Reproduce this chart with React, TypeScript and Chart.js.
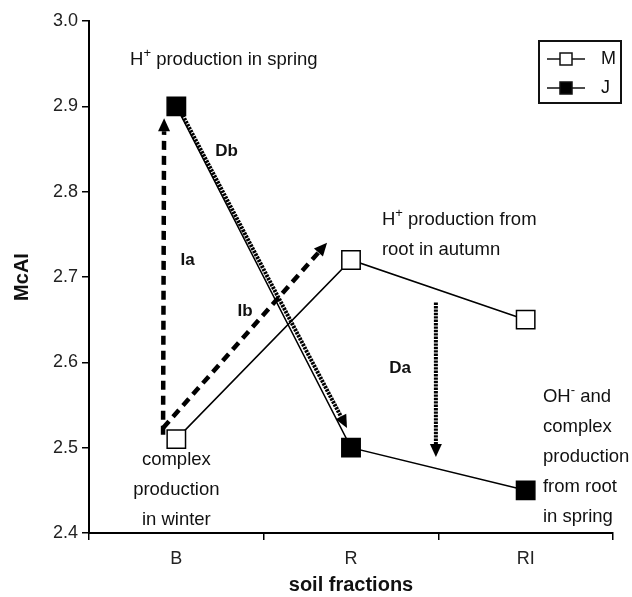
import React, { useEffect, useRef } from 'react';
import { Chart, registerables } from 'chart.js';
Chart.register(...registerables);

const categories = ['B', 'R', 'RI'];
const seriesM = [2.51, 2.72, 2.65];
const seriesJ = [2.9, 2.5, 2.45];
const seriesNames = ['M', 'J'];
const yMin = 2.4;
const yMax = 3.0;
const yStep = 0.1;
const yTitle = 'McAI';
const xTitle = 'soil fractions';

// arrows, in data space: [category index, value]
const arrowIa = { from: [-0.076, 2.515], to: [-0.07, 2.886], style: 'dash' };
const arrowIb = { from: [-0.076, 2.523], to: [0.863, 2.74], style: 'dash' };
const arrowDb = { from: [0.027, 2.893], to: [0.977, 2.523], style: 'dot' };
const arrowDa = { from: [1.486, 2.67], to: [1.486, 2.489], style: 'dot' };
const arrows = [arrowIa, arrowIb, arrowDb, arrowDa];

// annotation text ("^" marks the next char as superscript), anchored in data space
const noteSpring = { at: [-0.265, 2.954], align: 'left', lines: ['H^+ production in spring'] };
const noteAutumn = { at: [1.177, 2.7665], align: 'left', lines: ['H^+ production from', 'root in autumn'] };
const noteWinter = { at: [0, 2.4855], align: 'center', lines: ['complex', 'production', 'in winter'] };
const noteRoot = { at: [2.099, 2.559], align: 'left', lines: ['OH^- and', 'complex', 'production', 'from root', 'in spring'] };
const notes = [noteSpring, noteAutumn, noteWinter, noteRoot];

const boldLabels = [
  { text: 'Db', at: [0.287, 2.847] },
  { text: 'Ia', at: [0.064, 2.7197] },
  { text: 'Ib', at: [0.393, 2.66] },
  { text: 'Da', at: [1.281, 2.5926] },
];

const FONT = '"Liberation Sans", Arial, Helvetica, sans-serif';

function drawArrow(ctx: CanvasRenderingContext2D, x1: number, y1: number, x2: number, y2: number, style: string) {
  const dx = x2 - x1, dy = y2 - y1;
  const len = Math.hypot(dx, dy);
  const ux = dx / len, uy = dy / len;
  const headLen = 13, headW = 6;
  const ex = x2 - ux * headLen, ey = y2 - uy * headLen;
  ctx.save();
  ctx.strokeStyle = '#000';
  ctx.fillStyle = '#000';
  ctx.lineCap = 'butt';
  if (style === 'dash') {
    ctx.lineWidth = 4.5;
    ctx.setLineDash([9, 6]);
  } else {
    ctx.lineWidth = 4;
    ctx.setLineDash([2.4, 1]);
  }
  ctx.beginPath();
  ctx.moveTo(x1, y1);
  ctx.lineTo(ex, ey);
  ctx.stroke();
  ctx.setLineDash([]);
  ctx.beginPath();
  ctx.moveTo(x2, y2);
  ctx.lineTo(ex - uy * headW, ey + ux * headW);
  ctx.lineTo(ex + uy * headW, ey - ux * headW);
  ctx.closePath();
  ctx.fill();
  ctx.restore();
}

function parseRich(s: string) {
  const parts: { t: string; sup: boolean }[] = [];
  let buf = '';
  for (let i = 0; i < s.length; i++) {
    if (s[i] === '^' && i + 1 < s.length) {
      if (buf) parts.push({ t: buf, sup: false });
      buf = '';
      parts.push({ t: s[i + 1], sup: true });
      i++;
    } else buf += s[i];
  }
  if (buf) parts.push({ t: buf, sup: false });
  return parts;
}

function drawRich(ctx: CanvasRenderingContext2D, s: string, x: number, y: number, align: string, size: number) {
  const parts = parseRich(s);
  const supSize = Math.round(size * 0.7);
  let total = 0;
  const widths = parts.map((p) => {
    ctx.font = `${p.sup ? supSize : size}px ${FONT}`;
    const w = ctx.measureText(p.t).width;
    total += w;
    return w;
  });
  let cx = align === 'center' ? x - total / 2 : x;
  ctx.textAlign = 'left';
  ctx.textBaseline = 'middle';
  parts.forEach((p, i) => {
    ctx.font = `${p.sup ? supSize : size}px ${FONT}`;
    ctx.fillText(p.t, cx, p.sup ? y - size * 0.38 : y);
    cx += widths[i];
  });
}

const overlayPlugin = {
  id: 'overlay',
  beforeDatasetsDraw(chart: any) {
    const { ctx, scales } = chart;
    const xs = scales.x, ys = scales.y;
    arrows.forEach((a) => {
      drawArrow(
        ctx,
        xs.getPixelForValue(a.from[0]),
        ys.getPixelForValue(a.from[1]),
        xs.getPixelForValue(a.to[0]),
        ys.getPixelForValue(a.to[1]),
        a.style
      );
    });
  },
  afterDraw(chart: any) {
    const { ctx, scales, chartArea } = chart;
    const xs = scales.x, ys = scales.y;
    ctx.save();
    ctx.fillStyle = '#111';
    notes.forEach((n) => {
      const px = xs.getPixelForValue(n.at[0]);
      const py0 = ys.getPixelForValue(n.at[1]);
      n.lines.forEach((line, i) => {
        drawRich(ctx, line, px, py0 + i * 30, n.align, 18.5);
      });
    });
    ctx.font = `bold 17px ${FONT}`;
    ctx.textAlign = 'center';
    ctx.textBaseline = 'middle';
    boldLabels.forEach((b) => {
      ctx.fillText(b.text, xs.getPixelForValue(b.at[0]), ys.getPixelForValue(b.at[1]));
    });

    // legend box
    const bx = chartArea.right - 74, by = chartArea.top + 20, bw = 82, bh = 62;
    ctx.lineWidth = 2;
    ctx.strokeStyle = '#111';
    ctx.strokeRect(bx, by, bw, bh);
    chart.data.datasets.forEach((ds: any, i: number) => {
      const ry = by + 18 + i * 29;
      ctx.lineWidth = 1.5;
      ctx.beginPath();
      ctx.moveTo(bx + 8, ry);
      ctx.lineTo(bx + 46, ry);
      ctx.stroke();
      const s = 12;
      ctx.fillStyle = ds.pointBackgroundColor;
      ctx.fillRect(bx + 27 - s / 2, ry - s / 2, s, s);
      ctx.strokeRect(bx + 27 - s / 2, ry - s / 2, s, s);
      ctx.fillStyle = '#111';
      ctx.font = `18px ${FONT}`;
      ctx.textAlign = 'left';
      ctx.textBaseline = 'middle';
      ctx.fillText(ds.label, bx + 62, ry);
    });
    ctx.restore();
  },
};

export default function App() {
  const ref = useRef<HTMLCanvasElement>(null);
  useEffect(() => {
    if (!ref.current) return;
    const chart = new Chart(ref.current, {
      type: 'line',
      data: {
        labels: categories,
        datasets: [
          {
            label: seriesNames[0],
            data: seriesM,
            borderColor: '#000',
            borderWidth: 1.5,
            pointStyle: 'rect',
            pointRadius: 13,
            pointHoverRadius: 13,
            pointBackgroundColor: '#fff',
            pointBorderColor: '#000',
            pointBorderWidth: 1.5,
          },
          {
            label: seriesNames[1],
            data: seriesJ,
            borderColor: '#000',
            borderWidth: 1.5,
            pointStyle: 'rect',
            pointRadius: 13,
            pointHoverRadius: 13,
            pointBackgroundColor: '#000',
            pointBorderColor: '#000',
            pointBorderWidth: 1.5,
          },
        ],
      },
      options: {
        responsive: false,
        animation: false,
        events: [],
        layout: { padding: { left: 0, right: 19, top: 21, bottom: 0 } },
        plugins: { legend: { display: false }, tooltip: { enabled: false } },
        scales: {
          x: {
            type: 'category',
            offset: true,
            grid: { offset: true, drawOnChartArea: false, drawTicks: true, tickLength: 7, color: '#000', lineWidth: 1.5 },
            border: { display: true, color: '#000', width: 2 },
            ticks: { color: '#222', font: { family: FONT, size: 18 }, padding: 8 },
            title: { display: true, text: xTitle, color: '#111', font: { family: FONT, size: 20, weight: 'bold' }, padding: { top: 0, bottom: 0 } },
            afterFit: (s: any) => { s.height = 64; },
          },
          y: {
            min: yMin,
            max: yMax,
            grid: { drawOnChartArea: false, drawTicks: true, tickLength: 7, color: '#000', lineWidth: 1.5 },
            border: { display: true, color: '#000', width: 2 },
            ticks: { stepSize: yStep, color: '#222', font: { family: FONT, size: 18 }, padding: 4, callback: (v: any) => Number(v).toFixed(1) },
            title: { display: true, text: yTitle, color: '#111', font: { family: FONT, size: 20, weight: 'bold' }, padding: { top: 10, bottom: 0 } },
            afterFit: (s: any) => { s.width = 89; },
          },
        },
      },
      plugins: [overlayPlugin],
    });
    return () => chart.destroy();
  }, []);
  return (
    <div style={{ position: 'absolute', left: 0, top: 0, width: 632, height: 597, background: '#fff' }}>
      <canvas ref={ref} width={632} height={597} style={{ display: 'block' }} />
    </div>
  );
}
